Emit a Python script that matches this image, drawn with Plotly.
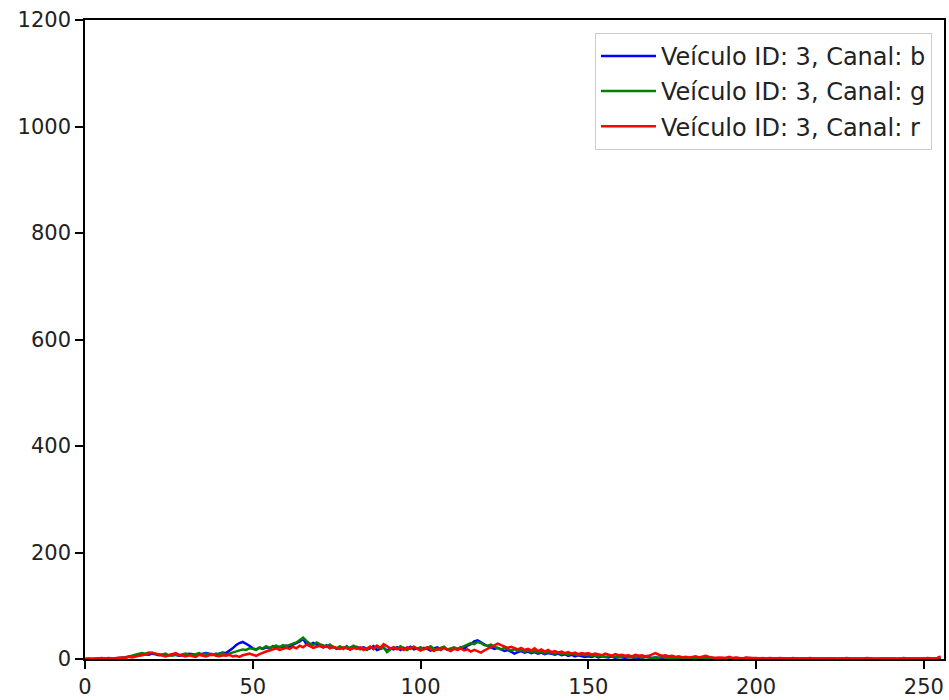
import plotly.graph_objects as go

bins = list(range(256))

canal_b = [
    0,0,0,0,0,1,0,1,1,1,
    2,2,3,4,5,6,7,8,9,8,
    10,9,7,8,6,7,9,8,6,7,
    8,10,9,7,8,9,11,10,9,8,
    10,12,11,15,20,26,30,32,29,25,
    20,18,21,19,22,20,24,21,23,22,
    25,22,27,30,33,38,28,26,30,27,
    24,22,26,21,23,19,22,20,24,18,
    21,23,19,22,18,20,24,17,19,21,
    16,20,18,22,17,21,19,23,18,20,
    17,21,19,16,20,22,18,21,17,19,
    20,18,22,19,25,28,33,35,31,27,
    24,22,19,21,18,15,17,14,10,13,
    15,12,14,11,13,10,12,9,11,10,
    8,10,7,9,6,8,5,7,6,4,
    5,4,6,3,5,4,3,5,2,4,
    3,2,4,3,2,3,2,4,3,2,
    3,2,2,3,1,2,3,2,1,2,
    2,1,2,3,2,1,2,1,2,1,
    1,2,1,1,2,1,1,2,1,1,
    1,1,0,1,1,0,1,1,0,1,
    0,1,1,0,1,0,0,1,0,1,
    0,0,1,0,1,0,0,1,0,0,
    1,0,0,1,0,0,1,0,0,1,
    0,1,0,0,1,0,1,0,0,1,
    0,1,0,1,0,2,
]

canal_g = [
    0,0,0,0,1,0,1,0,1,1,
    1,2,3,5,6,8,9,11,10,12,
    11,10,9,8,10,7,6,8,7,9,
    10,8,7,9,11,8,10,9,7,10,
    9,11,8,10,12,14,16,18,17,20,
    19,17,22,20,24,21,23,25,22,26,
    24,27,29,31,36,40,34,29,26,31,
    28,25,23,27,22,20,24,19,23,21,
    25,22,18,21,17,23,19,24,20,22,
    13,18,22,19,24,20,17,21,23,19,
    22,18,20,24,19,17,21,23,18,20,
    22,19,21,24,27,30,28,32,30,26,
    25,27,23,20,18,21,19,16,18,15,
    17,14,16,13,15,12,14,11,13,12,
    10,12,9,11,8,10,8,7,9,7,
    8,6,7,5,6,4,5,6,4,3,
    4,5,3,4,3,5,2,4,3,2,
    3,2,4,2,3,2,1,3,2,2,
    1,2,3,1,2,2,1,2,1,2,
    2,1,1,2,1,1,2,1,0,1,
    1,0,1,1,0,1,1,0,1,0,
    1,0,1,0,1,1,0,1,0,1,
    0,1,0,1,0,1,0,0,1,0,
    1,0,1,0,0,1,0,1,0,0,
    1,0,0,1,0,1,0,0,1,0,
    1,0,1,0,1,1,
]

canal_r = [
    0,1,0,1,1,2,1,2,1,2,
    2,3,2,4,3,5,6,7,9,10,
    12,10,8,6,5,7,9,11,8,6,
    5,7,6,4,8,6,5,7,9,6,
    5,7,6,8,5,6,4,7,9,10,
    8,6,9,12,14,16,18,20,17,19,
    21,19,23,20,25,22,27,24,21,23,
    25,22,24,20,23,21,19,22,20,18,
    21,19,22,17,20,23,19,25,21,28,
    24,20,22,18,21,17,22,19,23,20,
    16,19,22,18,15,20,17,21,18,15,
    19,17,20,16,18,14,17,15,12,16,
    19,22,25,29,26,24,21,23,20,18,
    21,17,19,16,20,15,18,14,17,13,
    15,12,14,11,13,10,12,9,11,10,
    11,8,10,9,7,10,8,6,9,7,
    8,6,7,5,8,6,7,5,6,9,
    11,8,6,7,5,6,4,5,3,4,
    3,4,5,3,4,6,4,3,2,3,
    3,2,4,2,3,2,1,3,2,2,
    2,1,2,1,2,1,1,2,1,1,
    1,2,1,1,0,1,2,1,1,0,
    1,1,2,1,0,1,1,2,1,1,
    1,0,1,2,1,1,0,1,1,2,
    1,1,0,1,2,1,1,0,1,1,
    1,2,1,1,2,5,
]

series = [
    ("Veículo ID: 3, Canal: b", canal_b, "#0000ff"),
    ("Veículo ID: 3, Canal: g", canal_g, "#008000"),
    ("Veículo ID: 3, Canal: r", canal_r, "#ff0000"),
]

x_ticks = [0, 50, 100, 150, 200, 250]
y_ticks = [0, 200, 400, 600, 800, 1000, 1200]

fig = go.Figure()
for name, vals, color in series:
    fig.add_trace(go.Scatter(x=bins, y=vals, mode="lines", name=name,
                             legendgroup=name,
                             line=dict(color=color, width=2.5)))

axis_common = dict(showgrid=False, zeroline=False, showline=True, linecolor="black",
                   linewidth=1.5, mirror=True, ticks="outside", ticklen=8,
                   tickwidth=1.5, tickcolor="black", automargin=False,
                   tickfont=dict(family="DejaVu Sans", size=21, color="#222222"))

fig.update_layout(
    width=949, height=700,
    margin=dict(l=85, r=5, t=20, b=41),
    paper_bgcolor="white", plot_bgcolor="white",
    font=dict(family="DejaVu Sans", size=21, color="#222222"),
    xaxis=dict(range=[0, 256], tickvals=x_ticks, **axis_common),
    yaxis=dict(range=[0, 1200], tickvals=y_ticks, **axis_common),
    legend=dict(x=0.986, y=0.98, xanchor="right", yanchor="top",
                bgcolor="rgba(255,255,255,0.8)", bordercolor="#cccccc", borderwidth=1,
                font=dict(family="DejaVu Sans", size=24, color="#222222"),
                itemwidth=55, tracegroupgap=1),
    showlegend=True,
)

fig.write_html("out.html")
